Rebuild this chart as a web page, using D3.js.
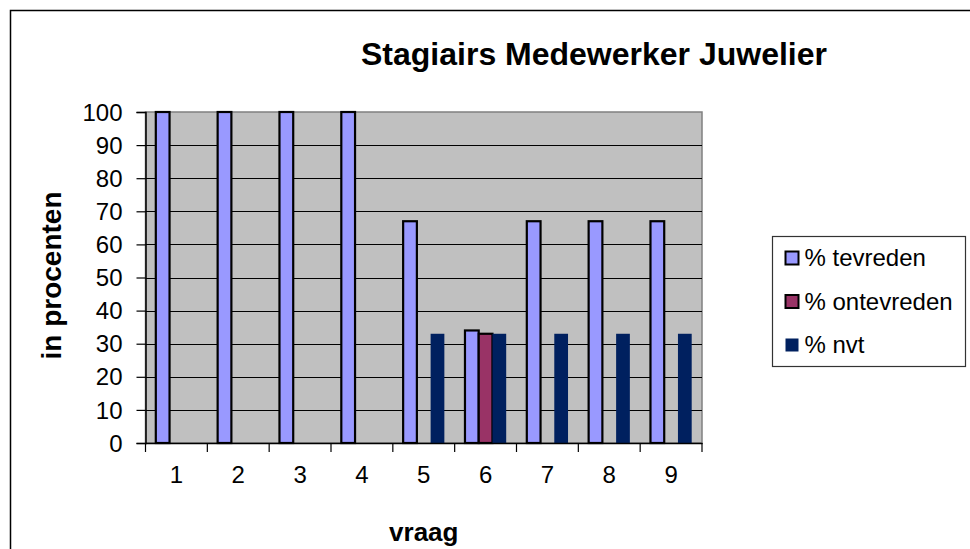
<!DOCTYPE html>
<html>
<head>
<meta charset="utf-8">
<script src="https://cdn.jsdelivr.net/npm/d3@7"></script>
<style>
  body { margin: 0; background: #fff; }
  svg { display: block; font-family: "Liberation Sans", Arial, sans-serif; }
</style>
</head>
<body>
<script>
// Data
var questions = ["1", "2", "3", "4", "5", "6", "7", "8", "9"];
var seriesNames = ["% tevreden", "% ontevreden", "% nvt"];
var tevreden   = [100, 100, 100, 100, 67, 34, 67, 67, 67];
var ontevreden = [0, 0, 0, 0, 0, 33, 0, 0, 0];
var nvt        = [0, 0, 0, 0, 33, 33, 33, 33, 33];
var yTicks = [0, 10, 20, 30, 40, 50, 60, 70, 80, 90, 100];

var colors = ["#9999ff", "#993366", "#00205f"];
var strokes = ["#000", "#000", "none"];

// Width and height
var w = 970;
var h = 549;
var plot = {left: 145.5, right: 702, top: 112, bottom: 443};

var rows = questions.map(function(q, i) {
    return {q: q, values: [tevreden[i], ontevreden[i], nvt[i]]};
});

// Scales
var x0 = d3.scaleBand()
    .domain(questions)
    .range([plot.left, plot.right])
    .padding(0);

var x1 = d3.scaleBand()
    .domain(d3.range(seriesNames.length))
    .range([0, x0.bandwidth()])
    .paddingInner(0)
    .paddingOuter(0.75);

var yScale = d3.scaleLinear()
    .domain([0, 100])
    .range([plot.bottom, plot.top]);

var svg = d3.select("body")
    .append("svg")
    .attr("width", w)
    .attr("height", h);

// Outer chart border
svg.append("rect")
    .attr("x", 10.5)
    .attr("y", 10.5)
    .attr("width", 1000)
    .attr("height", 700)
    .attr("fill", "none")
    .attr("stroke", "#000")
    .attr("stroke-width", 1.5);

// Plot area
svg.append("rect")
    .attr("x", plot.left)
    .attr("y", plot.top)
    .attr("width", plot.right - plot.left)
    .attr("height", plot.bottom - plot.top)
    .attr("fill", "#c0c0c0")
    .attr("stroke", "#808080")
    .attr("stroke-width", 1.5);

// Gridlines
svg.append("g")
    .selectAll("line")
    .data(yTicks.filter(function(d) { return d > 0 && d < 100; }))
    .enter().append("line")
    .attr("x1", plot.left)
    .attr("x2", plot.right)
    .attr("y1", function(d) { return Math.round(yScale(d)) + 0.5; })
    .attr("y2", function(d) { return Math.round(yScale(d)) + 0.5; })
    .attr("stroke", "#000")
    .attr("stroke-width", 1.2);

// Bars
var group = svg.selectAll(".group")
    .data(rows)
    .enter().append("g")
    .attr("class", "group")
    .attr("transform", function(d) { return "translate(" + x0(d.q) + ",0)"; });

group.selectAll("rect")
    .data(function(d) { return d.values.map(function(v, i) { return {i: i, v: v}; }); })
    .enter().append("rect")
    .filter(function(d) { return d.v > 0; })
    .attr("x", function(d) { return x1(d.i); })
    .attr("y", function(d) { return yScale(d.v); })
    .attr("width", x1.bandwidth())
    .attr("height", function(d) { return plot.bottom - yScale(d.v); })
    .attr("fill", function(d) { return colors[d.i]; })
    .attr("stroke", function(d) { return strokes[d.i]; })
    .attr("stroke-width", 2.2);

// Y axis
var yAxis = d3.axisLeft(yScale)
    .tickValues(yTicks)
    .tickSize(9)
    .tickPadding(14);

var gy = svg.append("g")
    .attr("transform", "translate(" + plot.left + ",0)")
    .call(yAxis);
gy.select(".domain").attr("stroke", "#000").attr("stroke-width", 1.5);
gy.selectAll(".tick line").attr("stroke", "#000").attr("stroke-width", 1.2);
gy.selectAll("text")
    .style("font-size", "24px")
    .attr("fill", "#000")
    .attr("dy", "0.34em");

// X axis (labels centered, ticks at category boundaries)
var xAxis = d3.axisBottom(x0).tickSize(0).tickSizeOuter(0);
var gx = svg.append("g")
    .attr("transform", "translate(0," + plot.bottom + ")")
    .call(xAxis);
gx.select(".domain").attr("stroke", "#000").attr("stroke-width", 1.5);
gx.selectAll("text")
    .style("font-size", "24px")
    .attr("fill", "#000")
    .attr("y", 40)
    .attr("dy", 0);

gx.selectAll(".bound")
    .data(questions.map(function(q) { return x0(q); }).concat([x0.range()[1]]))
    .enter().append("line")
    .attr("class", "bound")
    .attr("x1", function(d) { return d; })
    .attr("x2", function(d) { return d; })
    .attr("y1", 0)
    .attr("y2", 9)
    .attr("stroke", "#000")
    .attr("stroke-width", 1.2);

// Title
svg.append("text")
    .attr("x", 594)
    .attr("y", 65)
    .attr("text-anchor", "middle")
    .style("font-size", "32px")
    .style("font-weight", "bold")
    .text("Stagiairs Medewerker Juwelier");

// Axis titles
svg.append("text")
    .attr("transform", "translate(61," + ((plot.top + plot.bottom) / 2 - 2) + ") rotate(-90)")
    .attr("text-anchor", "middle")
    .style("font-size", "28px")
    .style("font-weight", "bold")
    .text("in procenten");

svg.append("text")
    .attr("x", (plot.left + plot.right) / 2)
    .attr("y", 541)
    .attr("text-anchor", "middle")
    .style("font-size", "26px")
    .style("font-weight", "bold")
    .text("vraag");

// Legend
var legend = svg.append("g")
    .attr("transform", "translate(772.5,236.5)");

legend.append("rect")
    .attr("width", 193)
    .attr("height", 130)
    .attr("fill", "#fff")
    .attr("stroke", "#333")
    .attr("stroke-width", 1.2);

var item = legend.selectAll(".item")
    .data(seriesNames)
    .enter().append("g")
    .attr("class", "item")
    .attr("transform", function(d, i) { return "translate(0," + (21.5 + i * 43.5) + ")"; });

item.append("rect")
    .attr("x", 13)
    .attr("y", -6.5)
    .attr("width", 13)
    .attr("height", 13)
    .attr("fill", function(d, i) { return colors[i]; })
    .attr("stroke", function(d, i) { return strokes[i]; })
    .attr("stroke-width", 2);

item.append("text")
    .attr("x", 32)
    .attr("dy", "0.35em")
    .style("font-size", "24px")
    .text(function(d) { return d; });
</script>
</body>
</html>
